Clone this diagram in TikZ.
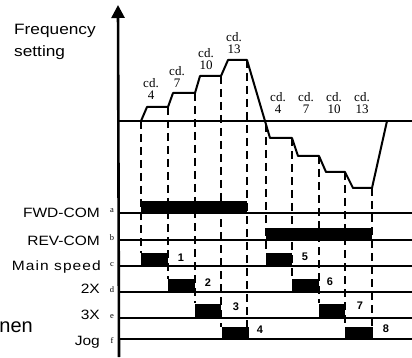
\documentclass[tikz,border=0pt]{standalone}
\usepackage{fontspec}
\newfontfamily\sigfont[FakeStretch=1.15]{Liberation Sans}
\newfontfamily\plainsans{Liberation Sans}
\newfontfamily\cdfont{Liberation Serif}
\usetikzlibrary{arrows.meta}

\begin{document}
\begin{tikzpicture}[
    x=1pt, y=-1pt,
    axis/.style={line width=2.6pt},
    level/.style={line width=1.8pt},
    profile/.style={line width=2pt, line join=round},
    guide/.style={line width=2pt, dash pattern=on 8pt off 5pt},
    bar/.style={fill=black},
    rowlabel/.style={font=\sigfont\fontsize{13.5}{15}\selectfont, anchor=base east, inner sep=0pt},
    pin/.style={font=\cdfont\fontsize{8.5}{9}\selectfont, inner sep=0pt},
    cdlabel/.style={font=\cdfont\fontsize{13}{12.5}\selectfont, align=center, inner sep=0pt},
    stepnum/.style={font=\plainsans\bfseries\fontsize{11}{12}\selectfont, inner sep=0pt}
]
\useasboundingbox (0,0) rectangle (412,358);

% axis and level lines
\coordinate (axtop) at (118,5);
\coordinate (axbot) at (119,357);
\draw[axis, -{Triangle[length=13pt, width=13pt]}] (axbot) -- (axtop);
\draw[level] (118,121) -- (412,121);
\draw[level] (119,213) -- (412,213);
\draw[level] (119,240) -- (412,240);
\draw[level] (119,266) -- (412,266);
\draw[level] (119,292) -- (412,292);
\draw[level] (119,318) -- (412,318);
\draw[level] (119,339) -- (412,339);

% frequency setting curve
\draw[profile] (141,121) -- (147,107) -- (168,107) -- (173,93) -- (195,93)
  -- (200,76) -- (221,76) -- (228,60) -- (247,60) -- (270,138) -- (292,138)
  -- (298,156) -- (319,156) -- (326,172) -- (345,172) -- (353,188) -- (372,188)
  -- (387,121);

% dashed guides
\draw[guide] (141,121) -- (141,253);
\draw[guide] (168,107) -- (168,279);
\draw[guide] (195,93) -- (195,303);
\draw[guide] (221,76) -- (221,327);
\draw[guide] (247,60) -- (247,327);
\draw[guide] (266,124) -- (266,253);
\draw[guide] (292,138) -- (292,279);
\draw[guide] (319,156) -- (319,303);
\draw[guide] (345,172) -- (345,327);
\draw[guide] (372,188) -- (372,327);

% signal bars
\fill[bar] (141,201) rectangle (247,213);
\fill[bar] (266,228) rectangle (372,240);
\fill[bar] (141,253) rectangle (168,266);
\fill[bar] (266,253) rectangle (292,266);
\fill[bar] (168,279) rectangle (195,292);
\fill[bar] (292,279) rectangle (319,292);
\fill[bar] (195,304) rectangle (221,318);
\fill[bar] (319,304) rectangle (345,318);
\fill[bar] (222,327) rectangle (249,339);
\fill[bar] (345,327) rectangle (373,339);

% labels
\node[font=\sigfont\fontsize{15}{22}\selectfont, anchor=base west, align=left, inner sep=0pt] (freq) at (14,57) {Frequency\\setting};

\node[rowlabel] (fwd) at (100,217) {FWD-COM};
\node[rowlabel] (rev) at (100,245) {REV-COM};
\node[rowlabel, font=\sigfont\fontsize{13.5}{15}\selectfont\addfontfeatures{LetterSpace=8}] (mainsp) at (101,270) {Main speed};
\node[rowlabel] (twox) at (100,293) {2X};
\node[rowlabel] (threex) at (100,319) {3X};
\node[rowlabel] (jog) at (100,345) {Jog};
\node[font=\plainsans\fontsize{20}{22}\selectfont, anchor=base east, inner sep=0pt] (cut) at (33,332) {nen};

\node[pin] (pina) at (112,211) {a};
\node[pin] (pinb) at (112,238) {b};
\node[pin] (pinc) at (112,265) {c};
\node[pin] (pind) at (112,290) {d};
\node[pin] (pine) at (112,317) {e};
\node[pin] (pinf) at (112,341) {f};

\node[cdlabel] (upfour) at (151,89) {cd.\\4};
\node[cdlabel] (upseven) at (177,77) {cd.\\7};
\node[cdlabel] (upten) at (206,59) {cd.\\10};
\node[cdlabel] (upthirteen) at (234,43) {cd.\\13};
\node[cdlabel] (downfour) at (278,103) {cd.\\4};
\node[cdlabel] (downseven) at (306,103) {cd.\\7};
\node[cdlabel] (downten) at (334,103) {cd.\\10};
\node[cdlabel] (downthirteen) at (362,103) {cd.\\13};

\node[stepnum] (numone) at (181,258) {1};
\node[stepnum] (numtwo) at (208,283) {2};
\node[stepnum] (numthree) at (236,307) {3};
\node[stepnum] (numfour) at (260,330) {4};
\node[stepnum] (numfive) at (305,257) {5};
\node[stepnum] (numsix) at (330,282) {6};
\node[stepnum] (numseven) at (360,306) {7};
\node[stepnum] (numeight) at (386,329) {8};
\end{tikzpicture}
\end{document}
